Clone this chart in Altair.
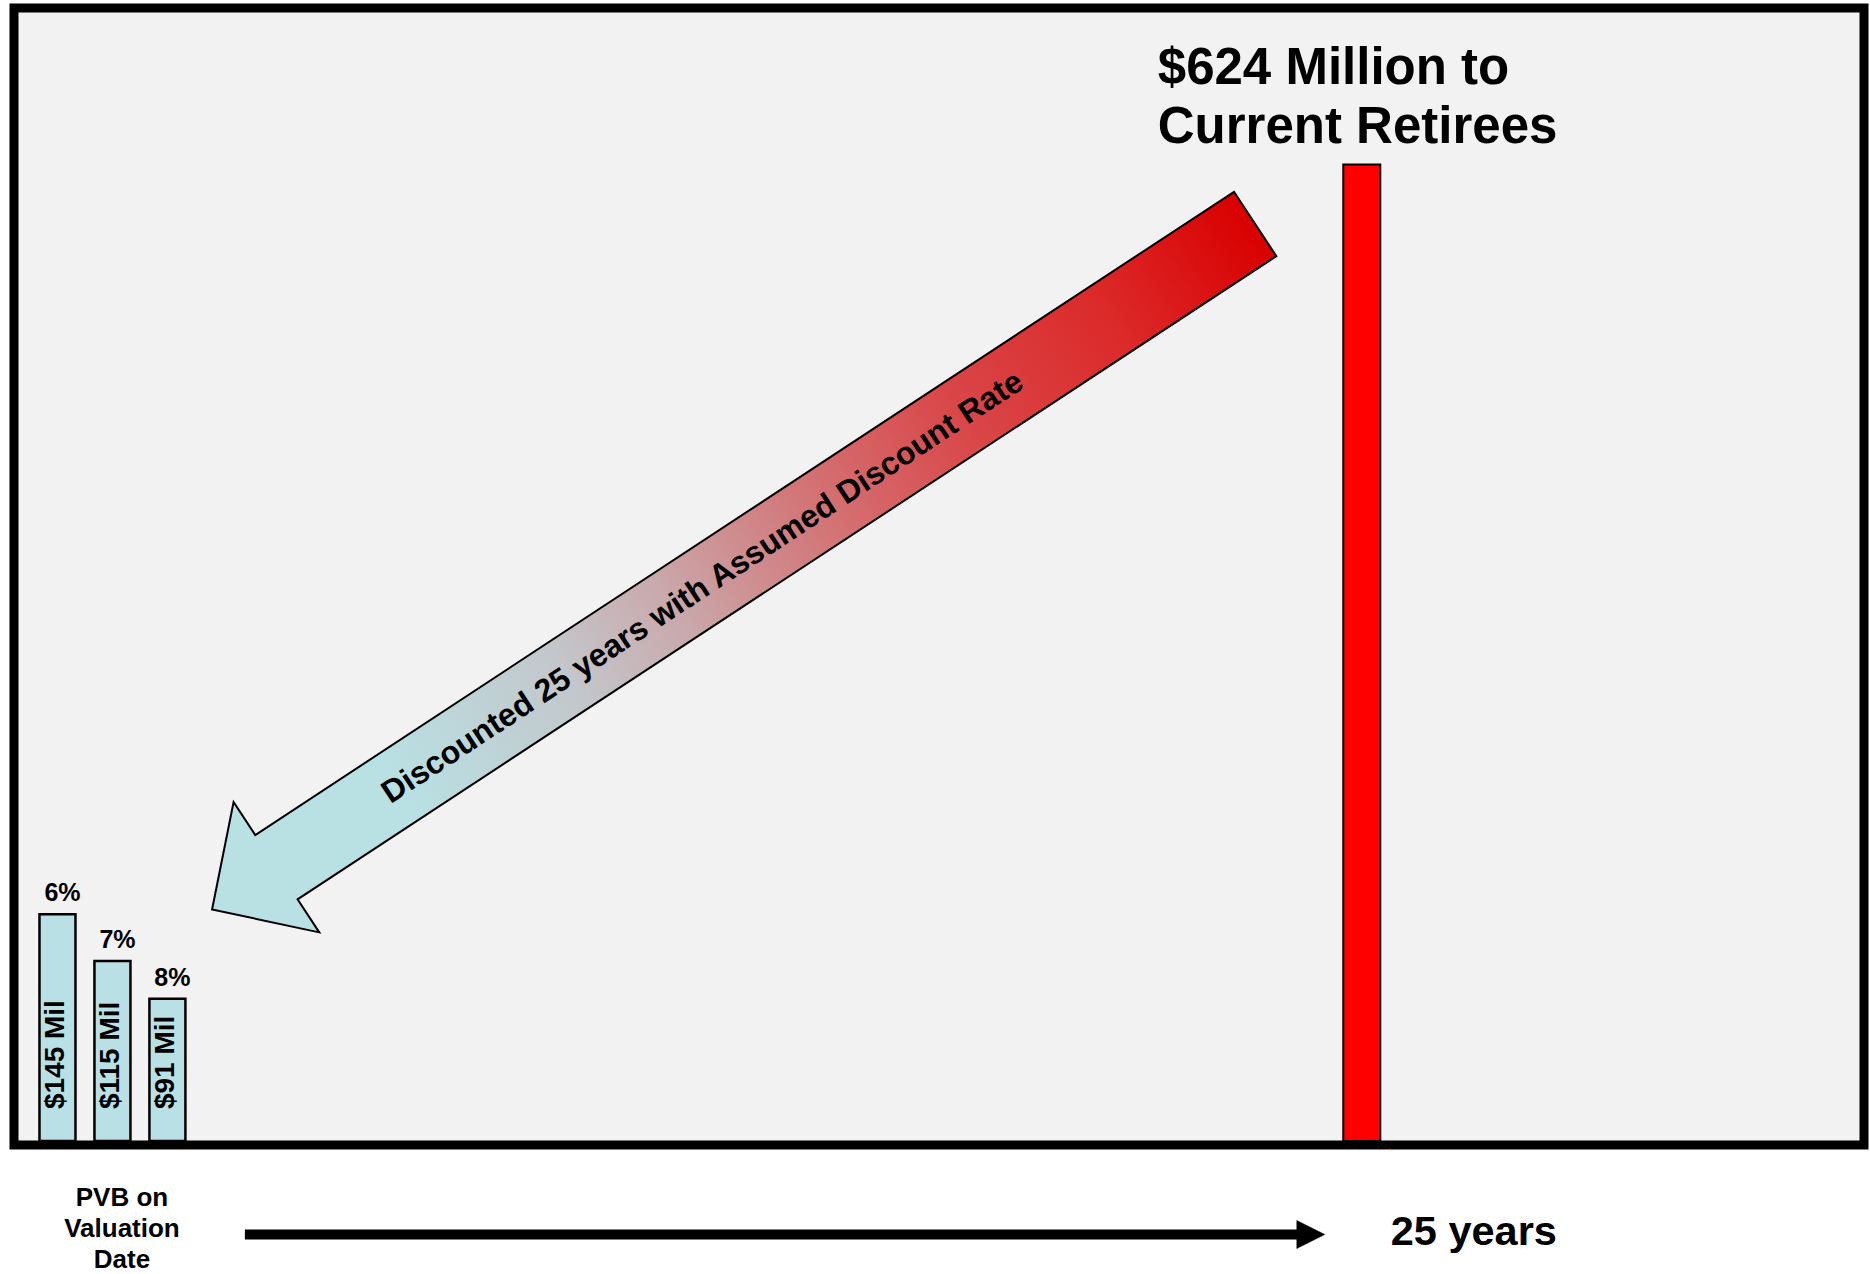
import math

import altair as alt
import pandas as pd

# Present value of benefits on the valuation date, at three assumed discount rates
rate_labels = ["6%", "7%", "8%"]
rate_pct = [6, 7, 8]
pvb_millions = [145, 115, 91]

# Benefits payable to current retirees 25 years from the valuation date
payout_year = [25]
payout_millions = [624]
payout_title_lines = ["$624 Million to", "Current Retirees"]

# Timeline captions under the frame
start_caption_lines = ["PVB on", "Valuation", "Date"]
end_caption = "25 years"
arrow_caption = "Discounted 25 years with Assumed Discount Rate"

FONT = "Liberation Sans"

# Plot area and scales (years on x, $ millions on y)
W, H = 1850, 1137
X_DOM = [-1.87, 34.95]
Y_DOM = [-2.5, 724.0]
PAD = {"left": 14, "top": 8, "right": 6, "bottom": 129}


def px(x):
    return (x - X_DOM[0]) / (X_DOM[1] - X_DOM[0]) * W


def py(y):
    return H - (y - Y_DOM[0]) / (Y_DOM[1] - Y_DOM[0]) * H


x_scale = alt.Scale(domain=X_DOM, nice=False, zero=False)
y_scale = alt.Scale(domain=Y_DOM, nice=False, zero=False)
X = lambda f: alt.X(f, scale=x_scale, axis=None)
Y = lambda f: alt.Y(f, scale=y_scale, axis=None)

# Pixel distance from the zero line down to the captions under the frame
BELOW = lambda pix: pix - py(0)

pvb = pd.DataFrame({
    "rate": rate_labels,
    "pct": rate_pct,
    "pvb": pvb_millions,
    "label": [f"${v} Mil" for v in pvb_millions],
})
payout = pd.DataFrame({"year": payout_year, "pay": payout_millions})

# Valuation-date bars sit side by side around year 0, one per discount rate
base_pvb = alt.Chart(pvb).transform_calculate(
    pos="(datum.pct - 7) * 1.1", zero="0"
)

pvb_bars = base_pvb.mark_bar(
    width=36, fill="#b9e0e4", stroke="black", strokeWidth=2.5
).encode(x=X("pos:Q"), y=Y("pvb:Q"), y2=alt.Y2("zero:Q"))

pvb_values = base_pvb.mark_text(
    angle=270, align="left", baseline="alphabetic", font=FONT,
    fontWeight="bold", fontSize=28, dx=32, dy=7, color="black",
).encode(x=X("pos:Q"), y=Y("zero:Q"), text="label:N")

pvb_rates = base_pvb.mark_text(
    align="center", baseline="alphabetic", font=FONT, fontWeight="bold",
    fontSize=25, dx=5, dy=-13, color="black",
).encode(x=X("pos:Q"), y=Y("pvb:Q"), text="rate:N")

base_pay = alt.Chart(payout).transform_calculate(zero="0")

pay_bar = base_pay.mark_bar(
    width=37, fill="#ff0000", stroke="black", strokeWidth=2
).encode(x=X("year:Q"), y=Y("pay:Q"), y2=alt.Y2("zero:Q"))

# Two-line heading over the payout bar, one text mark per line
pay_title = [
    alt.Chart(pd.DataFrame({
        "year": payout_year, "pay": payout_millions, "line": [line],
    })).mark_text(
        align="left", baseline="alphabetic", font=FONT, fontWeight="bold",
        fontSize=51, dx=-204, dy=-81 + 59 * i, color="black",
    ).encode(x=X("year:Q"), y=Y("pay:Q"), text="line:N")
    for i, line in enumerate(payout_title_lines)
]

# Discounting arrow: block arrow from the future payment down to the PV bars
ARROW_TAIL = (22.81, 586.0)
ARROW_TIP = (2.05, 148.0)
SHAFT_HALF, HEAD_HALF, HEAD_LEN = 38.5, 78.0, 77.0

tx, ty = px(ARROW_TAIL[0]), py(ARROW_TAIL[1])
hx, hy = px(ARROW_TIP[0]), py(ARROW_TIP[1])
arrow_len = math.hypot(tx - hx, ty - hy)
arrow_angle = math.degrees(math.atan2(ty - hy, tx - hx)) % 360
r = arrow_len / 2
sh, hh, hb = SHAFT_HALF / r, HEAD_HALF / r, -1 + HEAD_LEN / r
arrow_path = (
    f"M -1 0 L {hb:.5f} {-hh:.5f} L {hb:.5f} {-sh:.5f} L 1 {-sh:.5f} "
    f"L 1 {sh:.5f} L {hb:.5f} {sh:.5f} L {hb:.5f} {hh:.5f} Z"
)

arrow_fill = alt.LinearGradient(
    gradient="linear",
    stops=[
        alt.GradientStop(color="#b9e0e3", offset=0.0),
        alt.GradientStop(color="#b9e0e3", offset=0.18),
        alt.GradientStop(color="#c3c7cb", offset=0.34),
        alt.GradientStop(color="#c9a9ac", offset=0.44),
        alt.GradientStop(color="#cf8a8c", offset=0.52),
        alt.GradientStop(color="#d56668", offset=0.62),
        alt.GradientStop(color="#d94648", offset=0.72),
        alt.GradientStop(color="#dc2a2a", offset=0.86),
        alt.GradientStop(color="#d90000", offset=1.0),
    ],
    x1=0, x2=1, y1=0, y2=0,
)

arrow_df = pd.DataFrame({
    "x": [(ARROW_TAIL[0] + ARROW_TIP[0]) / 2],
    "y": [(ARROW_TAIL[1] + ARROW_TIP[1]) / 2],
})
big_arrow = alt.Chart(arrow_df).mark_point(
    shape=arrow_path, size=arrow_len ** 2, angle=arrow_angle, filled=True,
    fill=arrow_fill, stroke="black", strokeWidth=2, opacity=1,
).encode(x=X("x:Q"), y=Y("y:Q"))

t = 0.47
caption_df = pd.DataFrame({
    "x": [ARROW_TIP[0] + t * (ARROW_TAIL[0] - ARROW_TIP[0])],
    "y": [ARROW_TIP[1] + t * (ARROW_TAIL[1] - ARROW_TIP[1])],
    "text": [arrow_caption],
})
arrow_text = alt.Chart(caption_df).mark_text(
    angle=arrow_angle, align="center", baseline="middle", font=FONT,
    fontWeight="bold", fontSize=32, color="black",
).encode(x=X("x:Q"), y=Y("y:Q"), text="text:N")

# Timeline along the bottom: valuation date -> 25 years
TL_START, TL_TIP = 2.65, 24.26
TL_PIX = 1226.5
timeline_df = pd.DataFrame({"start": [TL_START], "tip": [TL_TIP], "zero": [0]})
tl_shaft = alt.Chart(timeline_df).mark_rule(
    color="black", strokeWidth=10, x2Offset=-24, yOffset=BELOW(TL_PIX),
).encode(x=X("start:Q"), x2="tip:Q", y=Y("zero:Q"))
tl_head = alt.Chart(timeline_df).mark_point(
    shape="M -1 -1 L 1 0 L -1 1 Z", size=784, filled=True, fill="black",
    stroke="black", strokeWidth=0.5, opacity=1, xOffset=-14,
    yOffset=BELOW(TL_PIX),
).encode(x=X("tip:Q"), y=Y("zero:Q"))

tl_start_text = [
    alt.Chart(pd.DataFrame({"x": [0], "zero": [0], "line": [line]})).mark_text(
        align="center", baseline="alphabetic", font=FONT, fontWeight="bold",
        fontSize=26, dx=9.5, dy=BELOW(1198 + 31 * i), color="black",
    ).encode(x=X("x:Q"), y=Y("zero:Q"), text="line:N")
    for i, line in enumerate(start_caption_lines)
]
tl_end_text = alt.Chart(pd.DataFrame({
    "x": payout_year, "zero": [0], "line": [end_caption],
})).mark_text(
    align="left", baseline="alphabetic", font=FONT, fontWeight="bold",
    fontSize=41.5, dx=29, dy=BELOW(1237), color="black",
).encode(x=X("x:Q"), y=Y("zero:Q"), text="line:N")

chart = alt.layer(
    pay_bar, big_arrow, arrow_text, pvb_bars, pvb_values, pvb_rates,
    *pay_title, tl_shaft, tl_head, *tl_start_text, tl_end_text,
).properties(
    width=W, height=H, padding=PAD,
    autosize=alt.AutoSizeParams(type="none"), background="white",
).configure_view(
    fill="#f2f2f2", stroke="black", strokeWidth=9
)

chart.save("out.html", embed_options={"renderer": "svg", "actions": False})
